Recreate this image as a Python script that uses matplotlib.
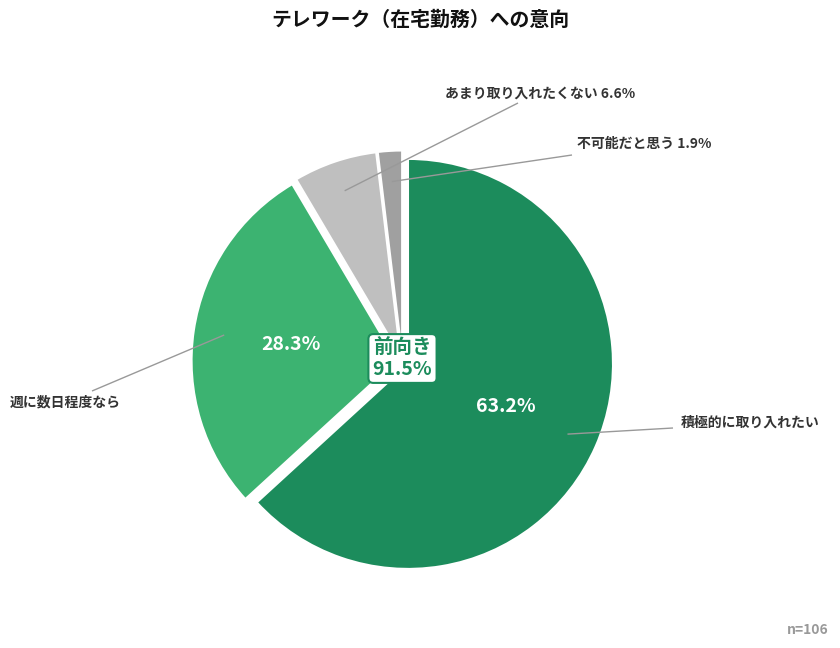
import math
import matplotlib
matplotlib.use("Agg")
import matplotlib.pyplot as plt

plt.rcParams['font.family'] = ['Noto Sans CJK JP', 'DejaVu Sans']

# ---- data ----
categories = ["積極的に取り入れたい", "週に数日程度なら", "あまり取り入れたくない", "不可能だと思う"]
values = [63.2, 28.3, 6.6, 1.9]
colors = ["#1c8c5c", "#3cb371", "#bfbfbf", "#a0a0a0"]
show_pct_inside = [True, True, False, False]
show_pct_outside = [False, False, True, True]
title = "テレワーク（在宅勤務）への意向"
center_label = "前向き"
center_value = 91.5
n_label = "n=106"

W, H = 840, 648
fig = plt.figure(figsize=(W / 100, H / 100), dpi=100)
ax = fig.add_axes([0, 0, 1, 1])


def Y(y_img):
    return H - y_img


cx, cy = 402.5, Y(361.5)
R = 205
offset = 6

wedges, _t, autotexts = ax.pie(
    values, colors=colors, startangle=90, counterclock=False,
    center=(cx, cy), radius=R, explode=[offset] * len(values),
    autopct=lambda p: "", pctdistance=0.52,
    wedgeprops=dict(edgecolor="white", linewidth=1.5),
)

for at, v, show in zip(autotexts, values, show_pct_inside):
    if show:
        at.set_text(f"{v:.1f}%")
        at.set_color("white")
        at.set_fontsize(14)
        at.set_fontweight("bold")

ax.set_xlim(0, W)
ax.set_ylim(0, H)
ax.set_aspect("auto")
ax.axis("off")

# leader lines + outer labels (layout anchors in image pixels)
line_ends = [(673, 428), (92, 391), (518, 103), (572, 155)]
text_anchor = [((681, 423), "left"), ((10, 402), "left"), ((540, 94), "center"), ((577, 144), "left")]

total = sum(values)
start = 90.0
for i, v in enumerate(values):
    sweep = 360.0 * v / total
    mid = math.radians(start - sweep / 2)
    start -= sweep
    wx = cx + offset * math.cos(mid)
    wy = cy + offset * math.sin(mid)
    sx = wx + 0.85 * R * math.cos(mid)
    sy = wy + 0.85 * R * math.sin(mid)
    ex, ey = line_ends[i]
    ax.plot([sx, ex], [sy, Y(ey)], color="#999999", lw=1.0, solid_capstyle="butt")
    label = categories[i] + (f" {v:.1f}%" if show_pct_outside[i] else "")
    (tx, ty), ha = text_anchor[i]
    ax.text(tx, Y(ty), label, ha=ha, va="center", fontsize=10,
            fontweight="bold", color="#333333")

# center box
ax.text(cx, Y(358.5), f"{center_label}\n{center_value:.1f}%", ha="center", va="center",
        fontsize=14, fontweight="bold", color="#1c8c5c", linespacing=1.15,
        bbox=dict(boxstyle="round,pad=0.22,rounding_size=0.25", fc="white",
                  ec="#1c8c5c", lw=1.5))

fig.text(0.5, 1 - 19 / H, title, ha="center", va="center", fontsize=14.3,
         fontweight="bold", color="#111111")
fig.text(829 / W, 1 - 630 / H, n_label, ha="right", va="center", fontsize=10,
         fontweight="bold", color="#999999")

fig.savefig("out.png", dpi=100, facecolor="white")
